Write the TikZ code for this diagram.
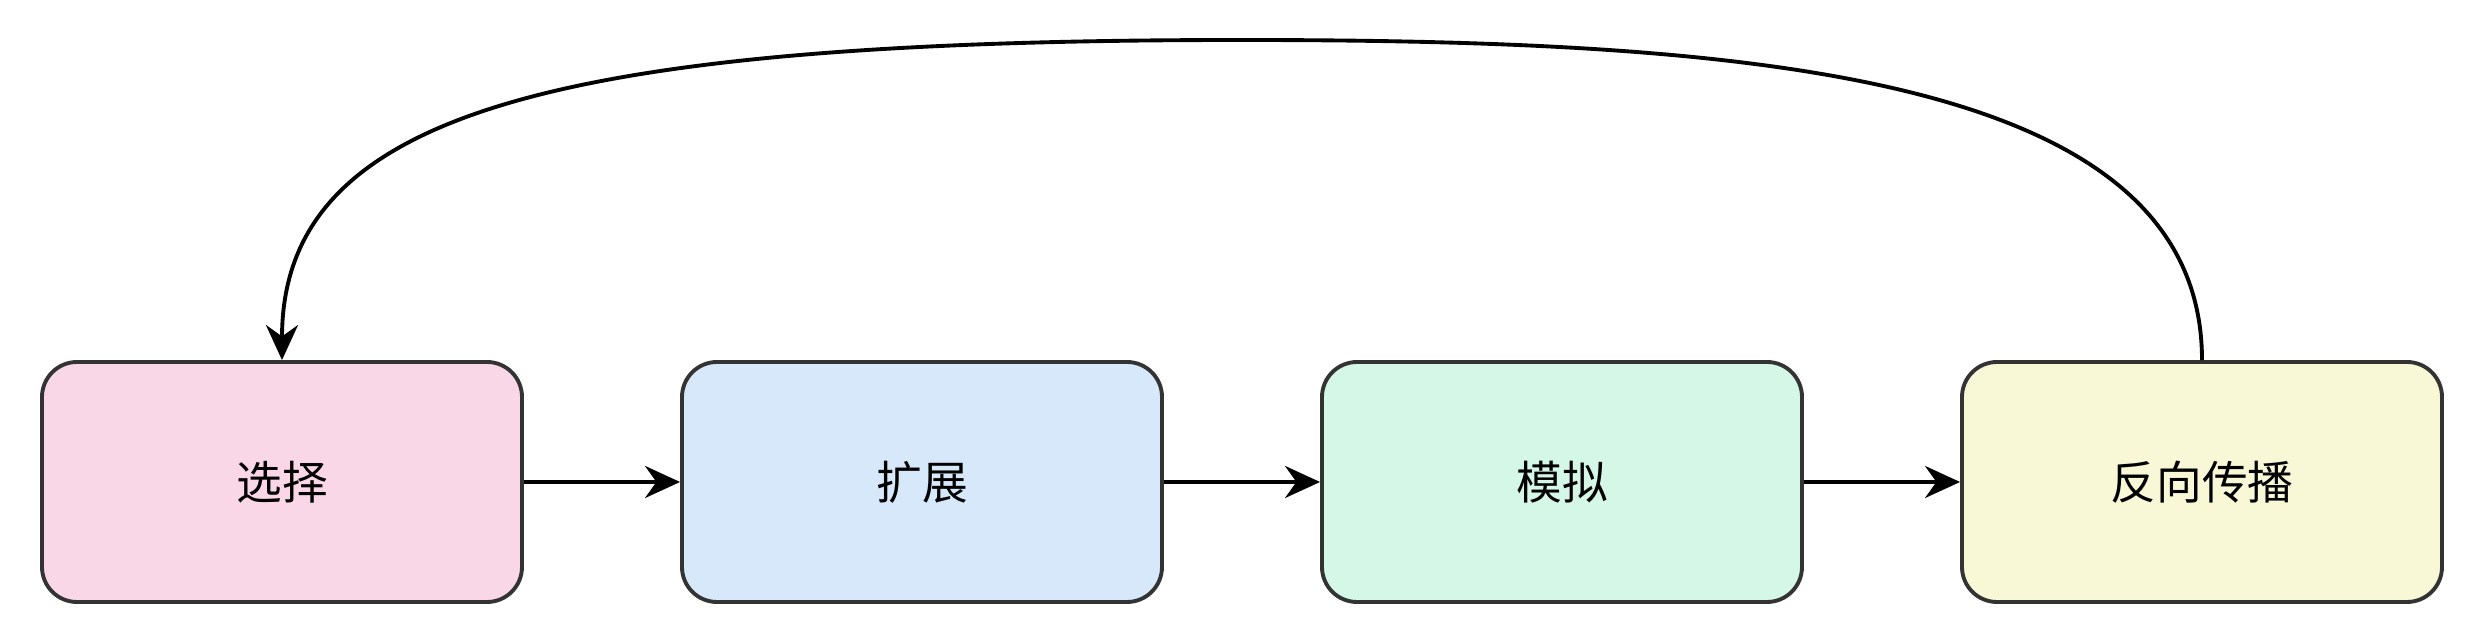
\documentclass[tikz,border=0pt]{standalone}
\usepackage{fontspec}
\newfontfamily\cjk{Noto Sans CJK SC}
\usetikzlibrary{arrows.meta}
\definecolor{cpink}{HTML}{FAD7E7}
\definecolor{cblue}{HTML}{D6E8F9}
\definecolor{cgreen}{HTML}{D5F7E7}
\definecolor{cyellow}{HTML}{F8F8D7}
\definecolor{cedge}{HTML}{333333}
\tikzset{
 stagebox/.style={draw=cedge,line width=1.1pt,rounded corners=0.35cm,minimum width=4.8cm,minimum height=2.4cm,font=\cjk\fontsize{13}{15}\selectfont},
 conn/.style={line width=1.1pt,-{Stealth[length=0.35cm,width=0.32cm]}}
}
\begin{document}
\begin{tikzpicture}
\useasboundingbox (0,0) rectangle (24.84,6.44);
\node[stagebox,fill=cpink] (a) at (2.82,1.62) {选择};
\node[stagebox,fill=cblue] (b) at (9.22,1.62) {扩展};
\node[stagebox,fill=cgreen] (c) at (15.62,1.62) {模拟};
\node[stagebox,fill=cyellow] (d) at (22.02,1.62) {反向传播};
\draw[conn] (a) -- (b);
\draw[conn] (b) -- (c);
\draw[conn] (c) -- (d);
\coordinate (top) at (12.4,6.04);
\draw[conn] (d.north) .. controls (22.02,5.7) and (17.5,6.04) .. (top) .. controls (5.5,6.04) and (2.82,5.3) .. (a.north);
\end{tikzpicture}
\end{document}
